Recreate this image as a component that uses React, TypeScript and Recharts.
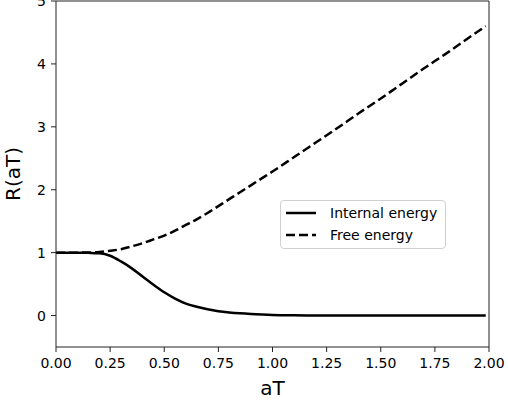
import { LineChart, Line, XAxis, YAxis } from 'recharts'

// values
const aT = [
  0, 0.05, 0.1, 0.15, 0.2, 0.25, 0.3, 0.35, 0.4, 0.45, 0.5, 0.55, 0.6, 0.65, 0.7, 0.75, 0.8, 0.85, 0.9,
  0.95, 1.0, 1.1, 1.2, 1.3, 1.4, 1.5, 1.6, 1.7, 1.8, 1.9, 1.985,
]
const internalEnergy = [
  1, 1, 1, 0.997, 0.99, 0.95, 0.86, 0.75, 0.62, 0.49, 0.37, 0.27, 0.19, 0.14, 0.1, 0.07, 0.05, 0.035,
  0.024, 0.016, 0.01, 0.004, 0.0015, 0.0005, 0, 0, 0, 0, 0, 0, 0,
]
const freeEnergy = [
  1, 1, 1, 1.003, 1.01, 1.03, 1.055, 1.1, 1.15, 1.21, 1.27, 1.35, 1.44, 1.53, 1.63, 1.74, 1.85, 1.96,
  2.07, 2.18, 2.29, 2.52, 2.75, 2.98, 3.22, 3.45, 3.69, 3.93, 4.16, 4.4, 4.6,
]
const xTicks = [0, 0.25, 0.5, 0.75, 1, 1.25, 1.5, 1.75, 2]
const yTicks = [0, 1, 2, 3, 4, 5]
const seriesNames = ['Internal energy', 'Free energy']

const data = aT.map((x, i) => ({ x, internal: internalEnergy[i], free: freeEnergy[i] }))

const font = 'DejaVu Sans, sans-serif'
const tickStyle = { fill: '#000', fontSize: 14, fontFamily: font }
const axisColor = '#222'

// y tick labels centred on the tick, so the top "5" gets clipped like the original
function YTick({ x, y, payload }: any) {
  return (
    <text x={x} y={y} dy="0.36em" textAnchor="end" fontSize={14} fontFamily={font} fill="#000">
      {payload.value}
    </text>
  )
}

function LegendBox() {
  return (
    <div
      style={{
        position: 'absolute',
        left: 280,
        top: 200,
        width: 166,
        boxSizing: 'border-box',
        border: '1px solid #d0d0d0',
        borderRadius: 4,
        background: '#fff',
        padding: '1px 6px 2px 5px',
        fontFamily: font,
        fontSize: 14,
        color: '#000',
        lineHeight: '22px',
      }}
    >
      {seriesNames.map((name, i) => (
        <div key={name} style={{ display: 'flex', alignItems: 'center' }}>
          <svg width={30} height={10} style={{ marginRight: 14 }}>
            <line x1={0} y1={5} x2={30} y2={5} stroke="#000" strokeWidth={2.5} strokeDasharray={i === 1 ? '9 4' : undefined} />
          </svg>
          {name}
        </div>
      ))}
    </div>
  )
}

export default function App() {
  return (
    <div style={{ position: 'absolute', left: 0, top: 0, width: 508, height: 402, background: '#fff' }}>
      <LineChart width={508} height={402} data={data} margin={{ top: 0, right: 18, left: 0, bottom: 0 }}>
        <XAxis
          dataKey="x"
          type="number"
          domain={[0, 2]}
          ticks={xTicks}
          tickFormatter={(v: number) => v.toFixed(2)}
          tick={tickStyle}
          tickSize={5}
          tickMargin={6}
          stroke={axisColor}
          height={55}
          allowDataOverflow
          label={{ value: 'aT', position: 'insideBottom', offset: 7, fontSize: 20, fill: '#000', fontFamily: font }}
        />
        <XAxis xAxisId="top" orientation="top" type="number" dataKey="x" domain={[0, 2]} height={1} tick={false} tickLine={false} stroke={axisColor} />
        <YAxis
          type="number"
          domain={[-0.5, 5]}
          ticks={yTicks}
          tick={<YTick />}
          tickSize={5}
          tickMargin={5}
          stroke={axisColor}
          width={56}
          allowDataOverflow
          interval={0}
          label={{ value: 'R(aT)', angle: -90, position: 'center', dx: -15, fontSize: 20, fill: '#000', fontFamily: font }}
        />
        <YAxis yAxisId="right" orientation="right" type="number" domain={[-0.5, 5]} width={1} tick={false} tickLine={false} stroke={axisColor} />
        <Line type="monotone" dataKey="internal" stroke="#000" strokeWidth={2.5} dot={false} isAnimationActive={false} />
        <Line type="monotone" dataKey="free" stroke="#000" strokeWidth={2.5} strokeDasharray="9 4" dot={false} isAnimationActive={false} />
      </LineChart>
      <LegendBox />
    </div>
  )
}
